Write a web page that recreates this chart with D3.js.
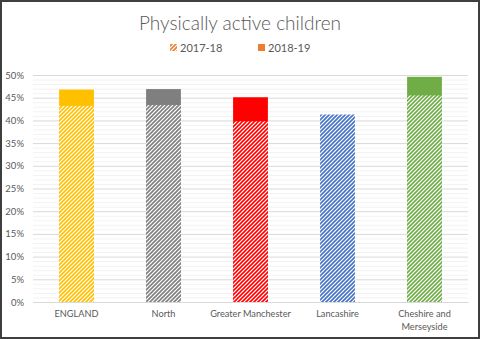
<!DOCTYPE html>
<html>
<head>
<meta charset="utf-8">
<script src="https://cdn.jsdelivr.net/npm/d3@7"></script>
<style>
  body { margin: 0; background: #fff; }
  text { font-family: Lato, "Open Sans", sans-serif; fill: #595959; }
</style>
</head>
<body>
<div id="chart"></div>
<script>
const W = 480, H = 339;
const margin = ({top: 75, right: 12, bottom: 37, left: 33});
const width = W - margin.left - margin.right;
const height = H - margin.top - margin.bottom;

// data
const areas = ['ENGLAND', 'North', 'Greater Manchester', 'Lancashire', 'Cheshire and Merseyside'];
const y2017 = [43.2, 43.4, 39.8, 41.3, 45.5];
const y2018 = [46.8, 46.9, 45.1, null, 49.6];   // Lancashire 2018-19 hidden behind the hatched bar
const colours = ['#ffc000', '#7f7f7f', '#ff0000', '#4472c4', '#70ad47'];
const yTicks = [0, 5, 10, 15, 20, 25, 30, 35, 40, 45, 50];
const seriesNames = ['2017-18', '2018-19'];

const svg = d3.select('#chart').append('svg')
    .attr('width', W)
    .attr('height', H)

// hatch patterns, one per colour
const defs = svg.append('defs')
const addHatch = (id, c) => {
    const p = defs.append('pattern')
        .attr('id', id)
        .attr('patternUnits', 'userSpaceOnUse')
        .attr('width', 4)
        .attr('height', 4)
    p.append('rect').attr('width', 4).attr('height', 4).attr('fill', '#fff')
    p.append('path')
        .attr('d', 'M-1,1 l2,-2 M0,4 l4,-4 M3,5 l2,-2')
        .attr('stroke', c)
        .attr('stroke-width', 1.6)
}
colours.forEach((c, i) => addHatch('hatch' + i, c))
addHatch('hatchLegend', '#ed7d31')

// chart border
svg.append('rect')
    .attr('x', 1).attr('y', 1)
    .attr('width', W - 2).attr('height', H - 2)
    .attr('fill', 'none')
    .attr('stroke', '#3f3f3f')
    .attr('stroke-width', 2)

svg.append('text')
    .attr('x', W / 2)
    .attr('y', 30)
    .attr('text-anchor', 'middle')
    .style('font-size', '19px')
    .style('font-weight', 300)
    .text('Physically active children')

// legend
const legend = svg.append('g').attr('transform', 'translate(0,48)')
const legX = [170, 258];
seriesNames.forEach((s, i) => {
    legend.append('rect')
        .attr('x', legX[i]).attr('y', -4)
        .attr('width', 7).attr('height', 7)
        .attr('fill', i === 0 ? 'url(#hatchLegend)' : '#ed7d31')
    legend.append('text')
        .attr('x', legX[i] + 10)
        .attr('y', 4)
        .style('font-size', '11px')
        .text(s)
})

const g = svg.append('g')
    .attr('transform', 'translate(' + margin.left + ',' + margin.top + ')')

const x = d3.scaleBand()
    .domain(areas)
    .range([0, width])
    .paddingInner(0.6)
    .paddingOuter(0.3)

const y = d3.scaleLinear()
    .domain([0, 50])
    .range([height, 0])

// minor gridlines every 1%
g.append('g')
    .selectAll('line')
    .data(d3.range(0, 51, 1).filter(v => v % 5 !== 0))
    .enter().append('line')
    .attr('x1', 0).attr('x2', width)
    .attr('y1', d => y(d) + 0.5).attr('y2', d => y(d) + 0.5)
    .attr('stroke', '#f2f2f2')

const yAxis = d3.axisLeft(y)
    .tickValues(yTicks)
    .tickSize(-width)
    .tickFormat(d => d + '%')

g.append('g')
    .call(yAxis)
    .call(a => a.select('.domain').remove())
    .call(a => a.selectAll('.tick line').attr('stroke', '#d9d9d9'))
    .call(a => a.selectAll('.tick text')
        .attr('x', -9)
        .style('font-size', '9.5px')
        .style('font-family', 'Lato, sans-serif')
        .attr('fill', '#595959'))

// 2018-19 solid bars behind
g.selectAll('.bar18')
    .data(areas.map((a, i) => ({a: a, v: y2018[i], c: colours[i]})).filter(d => d.v != null))
    .enter().append('rect')
    .attr('class', 'bar18')
    .attr('x', d => x(d.a))
    .attr('width', x.bandwidth())
    .attr('y', d => y(d.v))
    .attr('height', d => height - y(d.v))
    .attr('fill', d => d.c)

// 2017-18 hatched bars in front
g.selectAll('.bar17')
    .data(areas.map((a, i) => ({a: a, v: y2017[i], i: i})))
    .enter().append('rect')
    .attr('class', 'bar17')
    .attr('x', d => x(d.a))
    .attr('width', x.bandwidth())
    .attr('y', d => y(d.v))
    .attr('height', d => height - y(d.v))
    .attr('fill', d => 'url(#hatch' + d.i + ')')

// x axis
const xAxis = d3.axisBottom(x).tickSize(0).tickPadding(9)
g.append('g')
    .attr('transform', 'translate(0,' + height + ')')
    .call(xAxis)
    .call(a => a.select('.domain').attr('stroke', '#d9d9d9'))
    .call(a => a.selectAll('.tick text').remove())

// category labels, wrapped like the original
const labelLines = {'Cheshire and Merseyside': ['Cheshire and', 'Merseyside']};
areas.forEach(a => {
    const lines = labelLines[a] || [a];
    const t = g.append('text')
        .attr('x', x(a) + x.bandwidth() / 2)
        .attr('y', height + 15)
        .attr('text-anchor', 'middle')
        .style('font-size', '9.2px')
    lines.forEach((l, k) => {
        t.append('tspan')
            .attr('x', x(a) + x.bandwidth() / 2)
            .attr('dy', k === 0 ? 0 : 13)
            .text(l)
    })
})
</script>
</body>
</html>
